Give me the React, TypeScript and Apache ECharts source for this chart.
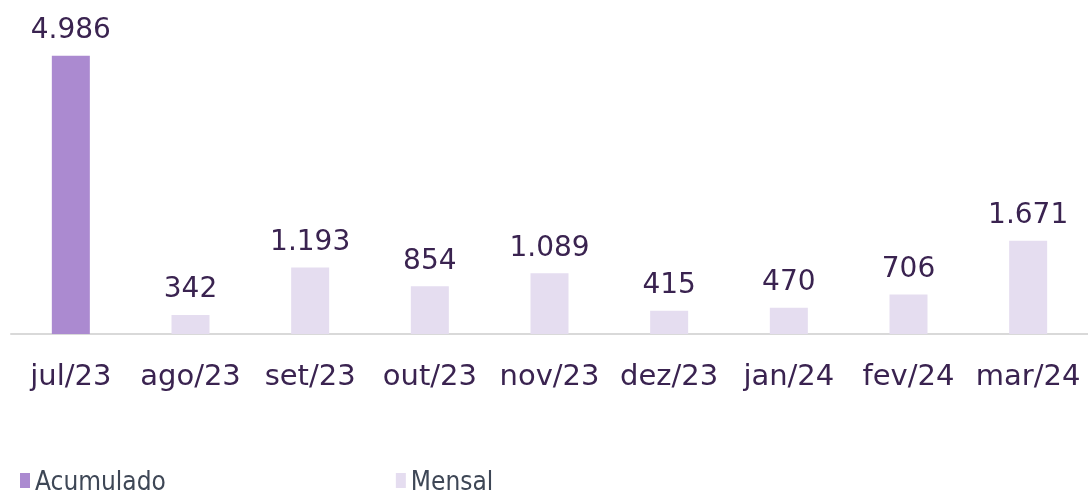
import React, { useEffect, useRef } from "react";
import * as echarts from "echarts";

const categories = ["jul/23", "ago/23", "set/23", "out/23", "nov/23", "dez/23", "jan/24", "fev/24", "mar/24"];
const acumulado = [4986, null, null, null, null, null, null, null, null];
const mensal = [null, 342, 1193, 854, 1089, 415, 470, 706, 1671];

const FONT = "'URW Gothic', 'Century Gothic', 'DejaVu Sans', sans-serif";
const LEGEND_FONT = "'DejaVu Sans Condensed', 'Liberation Sans Narrow', 'Roboto', sans-serif";
const fmt = (v: number) => v.toLocaleString("de-DE");

export default function App() {
  const ref = useRef<HTMLDivElement>(null);
  useEffect(() => {
    if (!ref.current) return;
    const chart = echarts.init(ref.current, null, { renderer: "svg" });
    const label = {
      show: true,
      position: "top" as const,
      distance: 13,
      color: "#3a2350",
      fontSize: 28,
      fontFamily: FONT,
      formatter: (p: any) => fmt(p.value),
    };
    chart.setOption({
      animation: false,
      grid: { left: 11, right: 0, top: 55, bottom: 162, containLabel: false },
      legend: {
        left: 20,
        top: 467,
        padding: 0,
        itemWidth: 10,
        itemHeight: 15,
        itemGap: 230,
        icon: "rect",
        textStyle: {
          color: "#3e4756",
          fontSize: 26,
          lineHeight: 27,
          fontFamily: LEGEND_FONT,
        },
        data: ["Acumulado", "Mensal"],
      },
      xAxis: {
        type: "category",
        data: categories,
        axisLine: { lineStyle: { color: "#d9d9d9", width: 2 } },
        axisTick: { show: false },
        axisLabel: { color: "#3a2350", fontSize: 29, fontFamily: FONT, margin: 26, interval: 0 },
      },
      yAxis: { type: "value", min: 0, max: 5000, show: false, splitLine: { show: false } },
      series: [
        { name: "Acumulado", type: "bar", data: acumulado, barWidth: 38, barGap: "-100%", itemStyle: { color: "#ab8ad0" }, label },
        { name: "Mensal", type: "bar", data: mensal, barWidth: 38, itemStyle: { color: "#e5ddf0" }, label },
      ],
    });
    return () => chart.dispose();
  }, []);
  return <div ref={ref} style={{ position: "fixed", left: 0, top: 0, width: 1088, height: 496 }} />;
}
